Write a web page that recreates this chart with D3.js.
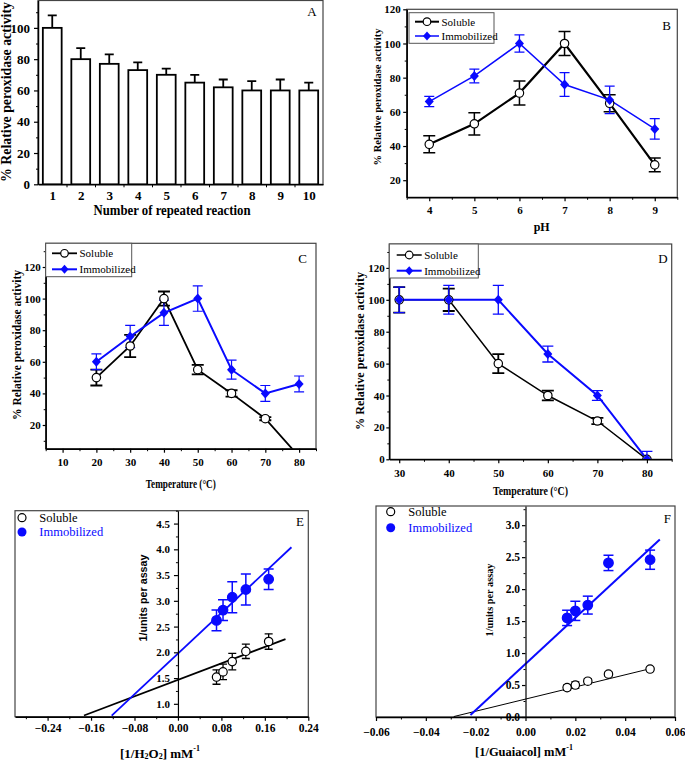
<!DOCTYPE html>
<html><head><meta charset="utf-8">
<script src="https://cdn.jsdelivr.net/npm/d3@7"></script>
<style>body{margin:0;background:#fff}</style>
</head><body>
<script>
// ---------- Panel A: repeated reaction ----------
const cycles = [1,2,3,4,5,6,7,8,9,10];
const cycleActivity = [100,80,77,73,70,65,62,60,60,60];
const cycleErr = [8,7,6,5,4,5,5,6,7,5];
const aYTicks = [0,20,40,60,80,100];
// ---------- Panel B: pH ----------
const pHValues = [4,5,6,7,8,9];
const pHSoluble = [41,53,71,100,65,29];
const pHSolubleErr = [5,6.5,7,7,5,4];
const pHImmob = [66,81,100,76,67,50];
const pHImmobErr = [3,4,5,7,8,6];
const bXTicks = [4,5,6,7,8,9];
const bYTicks = [20,40,60,80,100,120];
// ---------- Panel C: optimum temperature ----------
const optTemps = [20,30,40,50,60,70,80];
const optSoluble = [50,70,100,55,40,24,0];
const optSolubleErr = [5,7,4.5,3,2,1,0];
const optImmob = [60,76,91,100,55,40,46];
const optImmobErr = [5,7,8,8,6,5,5];
const cXTicks = [10,20,30,40,50,60,70,80];
const cYTicks = [20,40,60,80,100,120];
// ---------- Panel D: thermal stability ----------
const stabTemps = [30,40,50,60,70,80];
const stabSoluble = [100,100,60,40,24,0];
const stabSolubleErr = [8,7,6,3,2,0];
const stabImmob = [100,100,100,66,40,0];
const stabImmobErr = [8,9,9,5,3,5];
const dXTicks = [30,40,50,60,70,80];
const dYTicks = [0,20,40,60,80,100,120];
// ---------- Panel E: Lineweaver-Burk H2O2 ----------
const h2o2Inv = [0.071,0.083,0.1,0.125,0.167];
const h2o2Soluble = [1.52,1.62,1.82,2.02,2.21];
const h2o2SolubleErr = [0.14,0.15,0.16,0.14,0.15];
const h2o2Immob = [2.62,2.82,3.07,3.22,3.42];
const h2o2ImmobErr = [0.2,0.2,0.3,0.3,0.2];
const h2o2SolubleFit = [1.465, 4.0, -0.173, 0.198];   // intercept, slope, x start, x end
const h2o2ImmobFit = [1.975, 9.88, -0.122, 0.209];
const eXTicks = [-0.24,-0.16,-0.08,0,0.08,0.16,0.24];
const eYTicks = [1.0,1.5,2.0,2.5,3.0,3.5,4.0,4.5];
// ---------- Panel F: Lineweaver-Burk guaiacol ----------
const guaiInv = [0.0167,0.02,0.025,0.0333,0.05];
const guaiSoluble = [0.46,0.50,0.56,0.67,0.75];
const guaiSolubleErr = [0.04,0.05,0.04,0.03,0.03];
const guaiImmob = [1.55,1.66,1.75,2.41,2.46];
const guaiImmobErr = [0.12,0.15,0.14,0.12,0.15];
const guaiSolubleFit = [0.28, 9.5, -0.0288, 0.0506];
const guaiImmobFit = [0.83, 36.1, -0.0221, 0.0539];
const fXTicks = [-0.06,-0.04,-0.02,0,0.02,0.04,0.06];
const fYTicks = [0.0,0.5,1.0,1.5,2.0,2.5,3.0];

const SERIF = "'Liberation Serif','Times New Roman',serif";
const SANS = "'Liberation Sans',Arial,sans-serif";
const BLUE = "#0a0aff";

const svg = d3.select("body").append("svg").attr("width",685).attr("height",762);

function panel(c){
  const x = d3.scaleLinear().domain(c.xd).range([c.l,c.r]);
  const y = d3.scaleLinear().domain(c.yd).range([c.b,c.t]);
  const g = svg.append("g");
  svg.append("clipPath").attr("id","clip"+c.name).append("rect")
    .attr("x",c.l).attr("y",c.t).attr("width",c.r-c.l).attr("height",c.b-c.t);
  g.append("rect").attr("x",c.l).attr("y",c.t).attr("width",c.r-c.l).attr("height",c.b-c.t)
    .attr("fill","none").attr("stroke","#444").attr("stroke-width",1.2);
  const plot = g.append("g").attr("clip-path",`url(#clip${c.name})`);
  return {x,y,g,plot,c};
}

function drawAxis(g, orient, scale, pos, major, minor, fmt, fs, majLen, minLen, pad){
  const make = orient==="bottom" ? d3.axisBottom : d3.axisLeft;
  const tr = orient==="bottom" ? `translate(0,${pos})` : `translate(${pos},0)`;
  const ag = g.append("g").attr("transform",tr);
  ag.call(make(scale).tickValues(major).tickFormat(fmt).tickSize(majLen).tickSizeOuter(0).tickPadding(pad));
  ag.attr("font-family",SERIF).attr("font-size",fs).attr("font-weight","bold");
  ag.select(".domain").attr("stroke-width",1.5).attr("stroke","#000");
  ag.selectAll(".tick line").attr("stroke-width",1.2);
  ag.selectAll(".tick text").attr("fill","#000");
  if (minor && minor.length){
    const mg = g.append("g").attr("transform",tr);
    mg.call(make(scale).tickValues(minor).tickFormat("").tickSize(minLen).tickSizeOuter(0));
    mg.select(".domain").remove();
    mg.selectAll(".tick line").attr("stroke-width",1);
  }
  return ag;
}

function title(txt, cx, cy, fs, opts={}){
  const t = svg.append("text")
    .attr("transform",`translate(${cx},${cy})` + (opts.rot ? " rotate(-90)" : ""))
    .attr("text-anchor","middle").attr("dominant-baseline","central")
    .attr("font-family",opts.family||SERIF).attr("font-size",fs)
    .attr("font-weight",opts.normal?"normal":"bold").attr("fill",opts.fill||"#000");
  if (typeof txt === "string") t.text(txt);
  else txt.forEach(p=>{
    const s = t.append("tspan").text(p.t);
    if (p.dy) s.attr("dy",p.dy);
    if (p.fs) s.attr("font-size",p.fs);
  });
  if (opts.len) t.attr("textLength",opts.len).attr("lengthAdjust","spacingAndGlyphs");
  return t;
}
function plainText(txt, x, y, fs, fill){
  return svg.append("text").attr("x",x).attr("y",y).attr("dominant-baseline","central")
    .attr("font-family",SERIF).attr("font-size",fs).attr("fill",fill||"#000").text(txt);
}

function errBars(sel, x, y, xs, ys, es, color, half, sw){
  xs.forEach((xv,i)=>{
    if (!es[i]) return;
    const px = x(xv), y1 = y(ys[i]-es[i]), y2 = y(ys[i]+es[i]);
    sel.append("line").attr("x1",px).attr("x2",px).attr("y1",y1).attr("y2",y2).attr("stroke",color).attr("stroke-width",sw);
    [y1,y2].forEach(yy=>sel.append("line").attr("x1",px-half).attr("x2",px+half).attr("y1",yy).attr("y2",yy).attr("stroke",color).attr("stroke-width",sw));
  });
}
function series(sel, x, y, xs, ys, color, sw){
  sel.append("path").datum(xs.map((v,i)=>[v,ys[i]]))
    .attr("d",d3.line().x(d=>x(d[0])).y(d=>y(d[1])))
    .attr("fill","none").attr("stroke",color).attr("stroke-width",sw);
}
function circles(sel, x, y, xs, ys, r, filled){
  xs.forEach((v,i)=>sel.append("circle").attr("cx",x(v)).attr("cy",y(ys[i])).attr("r",r)
    .attr("fill",filled?BLUE:"#fff").attr("stroke",filled?BLUE:"#000").attr("stroke-width",1.2));
}
function diamonds(sel, x, y, xs, ys, s){
  xs.forEach((v,i)=>sel.append("path")
    .attr("d",`M0,${-s}L${s*0.9},0L0,${s}L${-s*0.9},0Z`)
    .attr("transform",`translate(${x(v)},${y(ys[i])})`).attr("fill",BLUE));
}
function fitLine(sel, x, y, fit, color, sw){
  const pts = [fit[2],fit[3]].map(v=>[v, fit[0]+fit[1]*v]);
  sel.append("path").datum(pts).attr("d",d3.line().x(d=>x(d[0])).y(d=>y(d[1])))
    .attr("fill","none").attr("stroke",color).attr("stroke-width",sw);
}
function boxLegend(x0,y0,x1,y1,rows,lx0,lx1,fs){
  svg.append("rect").attr("x",x0).attr("y",y0).attr("width",x1-x0).attr("height",y1-y0)
    .attr("fill","#fff").attr("stroke","#555").attr("stroke-width",1);
  rows.forEach(r=>{
    svg.append("line").attr("x1",lx0).attr("x2",lx1).attr("y1",r.y).attr("y2",r.y).attr("stroke",r.color).attr("stroke-width",r.sw);
    const mx=(lx0+lx1)/2;
    if (r.diamond) svg.append("path").attr("d","M0,-4.5L4,0L0,4.5L-4,0Z").attr("transform",`translate(${mx},${r.y})`).attr("fill",BLUE);
    else svg.append("circle").attr("cx",mx).attr("cy",r.y).attr("r",3.8).attr("fill","#fff").attr("stroke","#000").attr("stroke-width",1.2);
    plainText(r.label,lx1+2.5,r.y,fs);
  });
}
function letter(t,x,y){
  svg.append("text").attr("x",x).attr("y",y).attr("text-anchor","middle").attr("dominant-baseline","central")
    .attr("font-family",SERIF).attr("font-size",13).text(t);
}
const fmtInt = d3.format("d");

// ================= Panel A =================
{
  const p = panel({name:"A", l:38, r:323, t:0.5, b:184.3, xd:[0.5,10.5], yd:[0,117.5]});
  const bw = (p.x(2)-p.x(1))*0.66;
  cycles.forEach((c,i)=>{
    const cx = p.x(c), top = p.y(cycleActivity[i]), eTop = p.y(cycleActivity[i]+cycleErr[i]);
    p.plot.append("line").attr("x1",cx).attr("x2",cx).attr("y1",top).attr("y2",eTop).attr("stroke","#000").attr("stroke-width",1.8);
    p.plot.append("line").attr("x1",cx-4.5).attr("x2",cx+4.5).attr("y1",eTop).attr("y2",eTop).attr("stroke","#000").attr("stroke-width",1.8);
    p.plot.append("rect").attr("x",cx-bw/2).attr("y",top).attr("width",bw).attr("height",p.y(0)-top)
      .attr("fill","#fff").attr("stroke","#000").attr("stroke-width",1.8);
  });
  drawAxis(p.g,"left",p.y,38,aYTicks,d3.range(10,120,20),fmtInt,13,4,2,4);
  drawAxis(p.g,"bottom",p.x,184.3,cycles,d3.range(1.5,10,1),fmtInt,13,0,3,6);
  title("Number of repeated reaction",172,210,14,{len:157});
  title("% Relative peroxidase activity",6.5,92,14,{rot:true,len:180});
  letter("A",312,11);
}
// ================= Panel B =================
{
  const p = panel({name:"B", l:406.7, r:677.3, t:9.3, b:197.3, xd:[3.5,9.5], yd:[10,120]});
  errBars(p.plot,p.x,p.y,pHValues,pHSoluble,pHSolubleErr,"#000",6,1.5);
  series(p.plot,p.x,p.y,pHValues,pHSoluble,"#000",2.2);
  errBars(p.plot,p.x,p.y,pHValues,pHImmob,pHImmobErr,BLUE,5,1.3);
  series(p.plot,p.x,p.y,pHValues,pHImmob,BLUE,1.5);
  circles(p.plot,p.x,p.y,pHValues,pHSoluble,4.2,false);
  diamonds(p.plot,p.x,p.y,pHValues,pHImmob,5);
  drawAxis(p.g,"left",p.y,406.7,bYTicks,d3.range(30,120,20),fmtInt,11,3.5,2,2.5);
  drawAxis(p.g,"bottom",p.x,197.3,bXTicks,d3.range(3.5,9.6,1),fmtInt,11,4,2.5,5);
  title("pH",541.7,227,12);
  title("% Relative peroxidase activity",377,97,11,{rot:true,len:137});
  boxLegend(409,12.7,494,43.3,[
    {y:21.7,color:"#000",sw:2,label:"Soluble"},
    {y:36,color:BLUE,sw:1.5,label:"Immobilized",diamond:true}],415,439,11);
  letter("B",666.7,25);
}
// ================= Panel C =================
{
  const p = panel({name:"C", l:45.7, r:316, t:243.3, b:448.7, xd:[5,85], yd:[5,135]});
  errBars(p.plot,p.x,p.y,optTemps,optSoluble,optSolubleErr,"#000",6,1.8);
  series(p.plot,p.x,p.y,optTemps,optSoluble,"#000",1.8);
  errBars(p.plot,p.x,p.y,optTemps,optImmob,optImmobErr,BLUE,5,1.2);
  series(p.plot,p.x,p.y,optTemps,optImmob,BLUE,2);
  circles(p.plot,p.x,p.y,optTemps,optSoluble,4.2,false);
  diamonds(p.plot,p.x,p.y,optTemps,optImmob,5);
  drawAxis(p.g,"left",p.y,45.7,cYTicks,d3.range(10,135,20),fmtInt,11,3,2,2);
  drawAxis(p.g,"bottom",p.x,448.7,cXTicks,d3.range(5,86,10),fmtInt,11,4,2.5,5.3);
  title("Temperature (\u00B0C)",180.8,484,11.5,{len:70});
  title("% Relative peroxidase activity",17,345,11.5,{rot:true,len:150});
  boxLegend(45.7,243.3,131.7,276.7,[
    {y:253.3,color:"#000",sw:1.8,label:"Soluble"},
    {y:269.3,color:BLUE,sw:2,label:"Immobilized",diamond:true}],52,77,11);
  letter("C",302.7,258);
}
// ================= Panel D =================
{
  const p = panel({name:"D", l:389.3, r:671.7, t:244, b:459.3, xd:[28,85], yd:[0,135]});
  errBars(p.plot,p.x,p.y,stabTemps,stabSoluble,stabSolubleErr,"#000",6,1.8);
  series(p.plot,p.x,p.y,stabTemps,stabSoluble,"#000",1.5);
  errBars(p.plot,p.x,p.y,stabTemps,stabImmob,stabImmobErr,BLUE,5.5,1.3);
  series(p.plot,p.x,p.y,stabTemps,stabImmob,BLUE,2);
  circles(p.plot,p.x,p.y,stabTemps,stabSoluble,4.2,false);
  diamonds(p.plot,p.x,p.y,stabTemps,stabImmob,5);
  drawAxis(p.g,"left",p.y,389.3,dYTicks,d3.range(10,135,20),fmtInt,11,3,2,1.5);
  drawAxis(p.g,"bottom",p.x,459.3,dXTicks,d3.range(35,86,10),fmtInt,11,4,2.5,5.4);
  title("Temperature (\u00B0C)",530.5,490.7,11.5,{len:75});
  title("% Relative peroxidase activity",360,351,12,{rot:true,len:158});
  boxLegend(389.3,244,478.3,278,[
    {y:255,color:"#000",sw:1.5,label:"Soluble"},
    {y:270.7,color:BLUE,sw:2,label:"Immobilized",diamond:true}],396.7,421.7,11);
  letter("D",663,258);
}
// ================= Panel E =================
{
  const p = panel({name:"E", l:15, r:308.3, t:510.7, b:716.7, xd:[-0.30,0.24], yd:[0.75,4.75]});
  fitLine(p.plot,p.x,p.y,h2o2SolubleFit,"#000",1.8);
  fitLine(p.plot,p.x,p.y,h2o2ImmobFit,BLUE,1.8);
  errBars(p.plot,p.x,p.y,h2o2Inv,h2o2Soluble,h2o2SolubleErr,"#000",4,1.3);
  errBars(p.plot,p.x,p.y,h2o2Inv,h2o2Immob,h2o2ImmobErr,BLUE,5,1.5);
  circles(p.plot,p.x,p.y,h2o2Inv,h2o2Soluble,4.2,false);
  circles(p.plot,p.x,p.y,h2o2Inv,h2o2Immob,4.8,true);
  const ya = drawAxis(p.g,"left",p.y,p.x(0),eYTicks,d3.range(1.25,4.8,0.5),d3.format(".1f"),11,4,2,4);
  ya.select(".domain").attr("stroke-width",1.2);
  drawAxis(p.g,"bottom",p.x,716.7,eXTicks,d3.range(-0.28,0.21,0.08),d3.format(".2f"),11.5,4,2.5,3.3);
  title([{t:"[1/H"},{t:"2",dy:3,fs:8},{t:"O",dy:-3},{t:"2",dy:3,fs:8},{t:"] mM",dy:-3},{t:"-1",dy:-5,fs:8}],160,753,13);
  title("1/units per assay",143,598,11.5,{rot:true,len:87,family:SANS});
  svg.append("circle").attr("cx",22).attr("cy",517.7).attr("r",4).attr("fill","#fff").attr("stroke","#000").attr("stroke-width",1.2);
  svg.append("circle").attr("cx",22).attr("cy",532).attr("r",4.5).attr("fill",BLUE);
  plainText("Soluble",39.3,517.7,12.5);
  plainText("Immobilized",39.3,532,12.5,BLUE);
  letter("E",300,521);
}
// ================= Panel F =================
{
  const p = panel({name:"F", l:376, r:675, t:506, b:717, xd:[-0.06,0.06], yd:[0,3.3]});
  fitLine(p.plot,p.x,p.y,guaiSolubleFit,"#000",1);
  fitLine(p.plot,p.x,p.y,guaiImmobFit,BLUE,2);
  errBars(p.plot,p.x,p.y,guaiInv,guaiSoluble,guaiSolubleErr,"#000",4,1.3);
  errBars(p.plot,p.x,p.y,guaiInv,guaiImmob,guaiImmobErr,BLUE,5,1.5);
  circles(p.plot,p.x,p.y,guaiInv,guaiSoluble,4.2,false);
  circles(p.plot,p.x,p.y,guaiInv,guaiImmob,4.8,true);
  const ya = drawAxis(p.g,"left",p.y,p.x(0),fYTicks,d3.range(0.25,3.3,0.5),d3.format(".1f"),11.5,3.5,2,2);
  ya.select(".domain").attr("stroke-width",1.2);
  drawAxis(p.g,"bottom",p.x,717,fXTicks,d3.range(-0.05,0.06,0.02),d3.format(".2f"),11.5,4,2.5,6.4);
  title([{t:"[1/Guaiacol] mM"},{t:"-1",dy:-5,fs:8}],524,751.7,12.5);
  title("1/units per assay",489,600,11,{rot:true,len:73});
  svg.append("circle").attr("cx",390.7).attr("cy",511.7).attr("r",4).attr("fill","#fff").attr("stroke","#000").attr("stroke-width",1.2);
  svg.append("circle").attr("cx",390.7).attr("cy",527.7).attr("r",4.5).attr("fill",BLUE);
  plainText("Soluble",408.3,511.7,12.5);
  plainText("Immobilized",408.3,527.7,12.5,BLUE);
  letter("F",667.3,518.3);
}
</script>
</body></html>
